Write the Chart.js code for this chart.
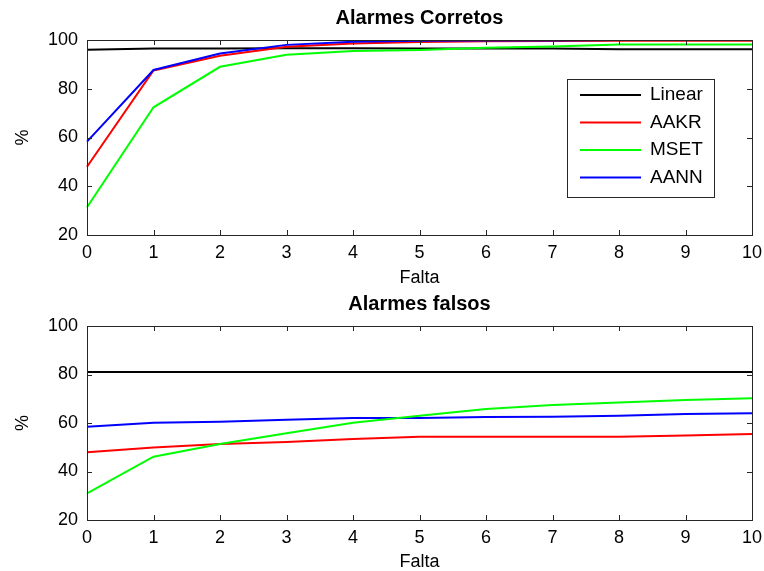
<!DOCTYPE html>
<html>
<head>
<meta charset="utf-8">
<script src="https://cdn.jsdelivr.net/npm/chart.js@4"></script>
<style>
    body { margin: 0; background: #fff; }
    .panel { position: absolute; left: 0; }
    #top { top: 0; }
    #bottom { top: 290px; }
</style>
</head>
<body>
<div class="panel" id="top"><canvas id="chart-corretos" width="764" height="290"></canvas></div>
<div class="panel" id="bottom"><canvas id="chart-falsos" width="764" height="281"></canvas></div>
<script>
// Data (Falta 0..10, values in %)
const FALTA = ['0', '1', '2', '3', '4', '5', '6', '7', '8', '9', '10'];
const Y_TICKS = [20, 40, 60, 80, 100];
const SERIES = ['Linear', 'AAKR', 'MSET', 'AANN'];
const COLORS = ['#000000', '#ff0000', '#00ff00', '#0000ff'];

// Alarmes Corretos
const corretosLinear = [96, 96.5, 96.5, 96.6, 96.6, 96.5, 96.5, 96.5, 96.2, 96.2, 96.2];
const corretosAAKR   = [48, 87.5, 93.5, 97.2, 98.6, 99.2, 99.5, 99.6, 99.7, 99.7, 99.7];
const corretosMSET   = [31.4, 72.4, 89, 93.9, 95.5, 95.9, 96.8, 97.3, 98.2, 98.2, 98.2];
const corretosAANN   = [58.3, 87.7, 94.5, 98, 99.3, 99.7, 99.8, 99.8, 100, 100, 100];

// Alarmes falsos
const falsosLinear = [81, 81, 81, 81, 81, 81, 81, 81, 81, 81, 81];
const falsosAAKR   = [47.9, 49.9, 51.3, 52.2, 53.4, 54.3, 54.3, 54.3, 54.3, 54.8, 55.5];
const falsosMSET   = [31, 46.1, 51.3, 55.8, 60.1, 63, 65.8, 67.4, 68.5, 69.5, 70.2];
const falsosAANN   = [58.5, 60.1, 60.5, 61.3, 62.1, 62.1, 62.5, 62.6, 63, 63.7, 64];

const FONT = "'Liberation Sans', Arial, sans-serif";
const AXIS_COLOR = '#262626';

// ── Plugins ────────────────────────────────────────

// MATLAB-style box with inward ticks on all four sides
const boxPlugin = {
    id: 'matlabBox',
    afterDatasetsDraw(chart) {
        const { ctx, chartArea: a, scales } = chart;
        const len = 5;
        ctx.save();
        ctx.strokeStyle = AXIS_COLOR;
        ctx.lineWidth = 1;
        ctx.beginPath();
        scales.x.ticks.forEach((t, i) => {
            const px = Math.round(scales.x.getPixelForTick(i)) + 0.5;
            ctx.moveTo(px, a.bottom); ctx.lineTo(px, a.bottom - len);
            ctx.moveTo(px, a.top); ctx.lineTo(px, a.top + len);
        });
        scales.y.ticks.forEach(t => {
            const py = Math.round(scales.y.getPixelForValue(t.value)) + 0.5;
            ctx.moveTo(a.left, py); ctx.lineTo(a.left + len, py);
            ctx.moveTo(a.right, py); ctx.lineTo(a.right - len, py);
        });
        ctx.stroke();
        ctx.strokeRect(Math.round(a.left) + 0.5, Math.round(a.top) + 0.5,
            Math.round(a.right - a.left), Math.round(a.bottom - a.top));
        ctx.restore();
    }
};

// Title centred over the plot area
const titlePlugin = {
    id: 'plotTitle',
    afterDraw(chart, args, opts) {
        const { ctx, chartArea: a } = chart;
        ctx.save();
        ctx.font = 'bold 20px ' + FONT;
        ctx.fillStyle = '#000';
        ctx.textAlign = 'center';
        ctx.textBaseline = 'middle';
        ctx.fillText(opts.text, (a.left + a.right) / 2, a.top - opts.gap);
        ctx.restore();
    }
};

// Boxed legend inside the plot
const boxLegendPlugin = {
    id: 'boxLegend',
    afterDraw(chart, args, opts) {
        if (!opts.show) return;
        const { ctx } = chart;
        const b = opts.box;
        ctx.save();
        ctx.fillStyle = '#fff';
        ctx.fillRect(b.x, b.y, b.w, b.h);
        ctx.strokeStyle = AXIS_COLOR;
        ctx.lineWidth = 1;
        ctx.strokeRect(b.x + 0.5, b.y + 0.5, b.w, b.h);
        ctx.font = '19px ' + FONT;
        ctx.textBaseline = 'middle';
        chart.data.datasets.forEach((ds, i) => {
            const y = b.y + opts.firstRow + i * opts.rowStep;
            ctx.strokeStyle = ds.borderColor;
            ctx.lineWidth = 2;
            ctx.beginPath();
            ctx.moveTo(b.x + 13, y);
            ctx.lineTo(b.x + 74, y);
            ctx.stroke();
            ctx.fillStyle = '#000';
            ctx.fillText(ds.label, b.x + 83, y);
        });
        ctx.restore();
    }
};

// ── Chart factory ─────────────────────────────────

function makeChart(canvasId, title, values, layout) {
    const datasets = SERIES.map((name, i) => ({
        label: name,
        data: values[i],
        borderColor: COLORS[i],
        backgroundColor: COLORS[i],
        borderWidth: 2,
        pointRadius: 0,
        tension: 0,
        fill: false,
    }));
    // draw Linear last so it sits on top, like the reference
    const order = [3, 2, 0, 1];
    datasets.forEach((ds, i) => { ds.order = order[i]; });

    return new Chart(document.getElementById(canvasId), {
        type: 'line',
        data: { labels: FALTA, datasets },
        options: {
            responsive: false,
            animation: false,
            layout: { padding: { top: layout.top, right: 12, left: 0, bottom: 0 } },
            plugins: {
                legend: { display: false },
                tooltip: { enabled: false },
                plotTitle: { text: title, gap: 22 },
                boxLegend: layout.legend,
            },
            scales: {
                x: {
                    type: 'category',
                    offset: false,
                    grid: { display: false, drawTicks: false },
                    border: { display: false },
                    ticks: { color: '#000', padding: 7, font: { family: FONT, size: 18 }, maxRotation: 0, autoSkip: false },
                    title: { display: true, text: 'Falta', color: '#000', font: { family: FONT, size: 18, lineHeight: 1 }, padding: { top: 0, bottom: layout.xTitlePad } },
                    afterFit: s => {
                        s.height = layout.xHeight;
                        s.paddingLeft = 0;
                        s.paddingRight = 0;
                    },
                },
                y: {
                    min: 20,
                    max: 100,
                    afterBuildTicks: s => { s.ticks = Y_TICKS.map(v => ({ value: v })); },
                    grid: { display: false, drawTicks: false },
                    border: { display: false },
                    ticks: { color: '#000', padding: 9, font: { family: FONT, size: 18 } },
                    title: { display: true, text: '%', color: '#000', font: { family: FONT, size: 18, lineHeight: 1 }, padding: { top: 14, bottom: 0 } },
                    afterFit: s => { s.width = 87; },
                },
            },
        },
        plugins: [boxPlugin, titlePlugin, boxLegendPlugin],
    });
}

makeChart('chart-corretos', 'Alarmes Corretos',
    [corretosLinear, corretosAAKR, corretosMSET, corretosAANN],
    {
        top: 40, xHeight: 55, xTitlePad: 3,
        legend: { show: true, box: { x: 567, y: 79, w: 147, h: 118 }, firstRow: 16, rowStep: 27.5 },
    });

makeChart('chart-falsos', 'Alarmes falsos',
    [falsosLinear, falsosAAKR, falsosMSET, falsosAANN],
    { top: 36, xHeight: 51, xTitlePad: 0, legend: { show: false } });
</script>
</body>
</html>
